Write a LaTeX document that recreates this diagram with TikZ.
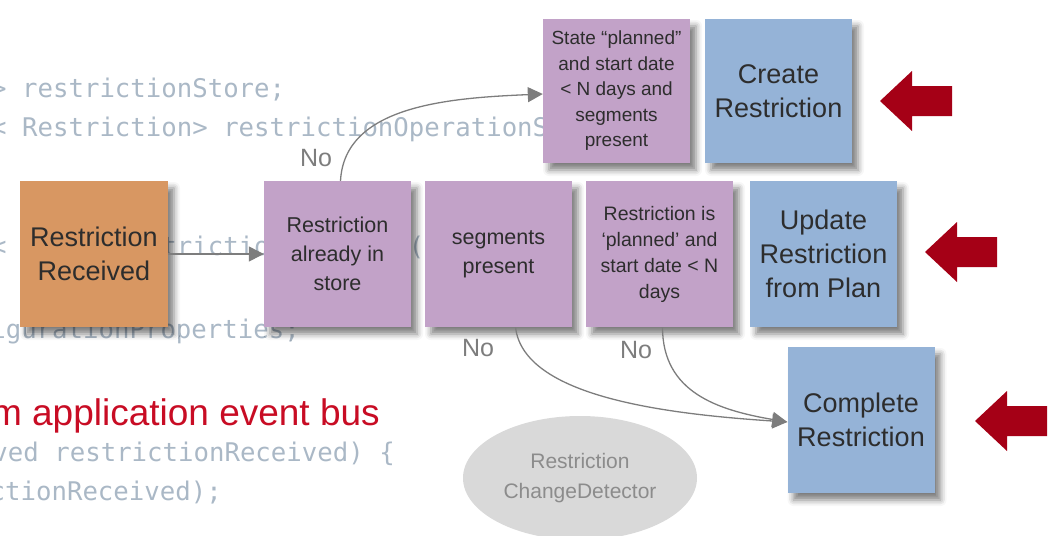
\documentclass[tikz,border=0pt]{standalone}
\usepackage{fontspec}
\setmainfont{Liberation Sans}
\newfontfamily\codefont{DejaVu Sans Mono}
\usetikzlibrary{arrows.meta,shadows.blur,shapes.geometric}

\definecolor{boxorange}{RGB}{216,151,98}
\definecolor{boxpurple}{RGB}{194,162,200}
\definecolor{boxblue}{RGB}{149,179,215}
\definecolor{boxtext}{RGB}{45,45,45}
\definecolor{codegray}{RGB}{170,184,198}
\definecolor{busred}{RGB}{200,12,36}
\definecolor{arrowred}{RGB}{165,0,22}
\definecolor{linkgray}{RGB}{125,125,125}
\definecolor{detfill}{RGB}{217,217,217}
\definecolor{dettext}{RGB}{140,140,140}

\tikzset{
  card/.style={minimum width=147pt, minimum height=146pt, inner sep=1pt,
    align=center, text=boxtext,
    blur shadow={shadow xshift=6pt, shadow yshift=-7pt,
      shadow blur radius=6pt, shadow opacity=50}},
  startcard/.style={card, fill=boxorange, minimum width=148pt,
    font=\fontsize{27}{34}\selectfont},
  testcard/.style={card, fill=boxpurple},
  actioncard/.style={card, fill=boxblue, font=\fontsize{27}{34}\selectfont},
  codeline/.style={inner sep=0pt, text=codegray, font=\codefont\fontsize{25.7}{30}\selectfont},
  link/.style={draw=linkgray, line width=1.3pt,
    -{Triangle[length=15pt,width=15pt]}},
  nolabel/.style={inner sep=0pt, text=linkgray, font=\fontsize{25}{30}\selectfont},
  redarrow/.pic={\fill[arrowred] (0,0) -- (32,-30) -- (32,-15) -- (72,-15)
      -- (72,15) -- (32,15) -- (32,30) -- cycle;}
}

\begin{document}
\begin{tikzpicture}[x=1pt, y=-1pt]
\useasboundingbox (0,0) rectangle (1051,535);

% source code listing in the background
\node[codeline, anchor=base west] (c1) at (-9,97)  {> restrictionStore;};
\node[codeline, anchor=base west] (c2) at (-9,136) {< Restriction> restrictionOperationStore;};
\node[codeline, anchor=base west] (c3) at (-9,255) {< final restrictionEventBus(Config};
\node[codeline, anchor=base east] (c4) at (300,338) {RestrictionConfigurationProperties;};
\node[inner sep=0pt, anchor=base east, text=busred, font=\fontsize{37}{42}\selectfont]
  (bus) at (380,425) {from application event bus};
\node[codeline, anchor=base east] (c6) at (395,461) {(RestrictionReceived restrictionReceived) \{};
\node[codeline, anchor=base east] (c7) at (222,500) {handle(restrictionReceived);};

% change detector
\node[ellipse, fill=detfill, minimum width=234pt, minimum height=124pt, inner sep=0pt,
  align=center, text=dettext, font=\fontsize{21}{30}\selectfont]
  (det) at (580,478) {Restriction\\ChangeDetector};

% decision and action cards
\node[startcard] (recv) at (94,254) {Restriction\\Received};
\node[testcard, font=\fontsize{21.5}{29}\selectfont] (store) at (337.5,254)
  {Restriction\\already in\\store};
\node[testcard, font=\fontsize{21.5}{29}\selectfont] (seg) at (498.5,254)
  {segments\\present};
\node[testcard, font=\fontsize{19.5}{26}\selectfont] (planned) at (659.5,254)
  {Restriction is\\`planned' and\\start date < N\\days};
\node[actioncard] (update) at (823.5,254) {Update\\Restriction\\from Plan};
\node[testcard, minimum height=144pt, font=\fontsize{19}{25.5}\selectfont] (state) at (616.5,91)
  {State “planned”\\and start date\\< N days and\\segments\\present};
\node[actioncard, minimum height=144pt] (create) at (778.5,91) {Create\\Restriction};
\node[actioncard] (complete) at (861,420) {Complete\\Restriction};

% connectors
\draw[link] (recv.east) -- (store.west);
\draw[link] ([xshift=3pt]store.north) .. controls +(4,-75) and +(-95,4) .. ([yshift=-3pt]state.west);
\draw[link] ([xshift=17pt]seg.south) .. controls +(8,70) and +(-120,-8) .. ([yshift=-2pt]complete.west);
\draw[link] ([xshift=3pt]planned.south) .. controls +(0,65) and +(-70,-12) .. ([yshift=-2pt]complete.west);

\node[nolabel] (no1) at (316,158) {No};
\node[nolabel] (no2) at (478,348) {No};
\node[nolabel] (no3) at (636,350) {No};

% highlight markers
\pic at (880,101) {redarrow};
\pic at (925,252) {redarrow};
\pic at (975,421) {redarrow};
\end{tikzpicture}
\end{document}
